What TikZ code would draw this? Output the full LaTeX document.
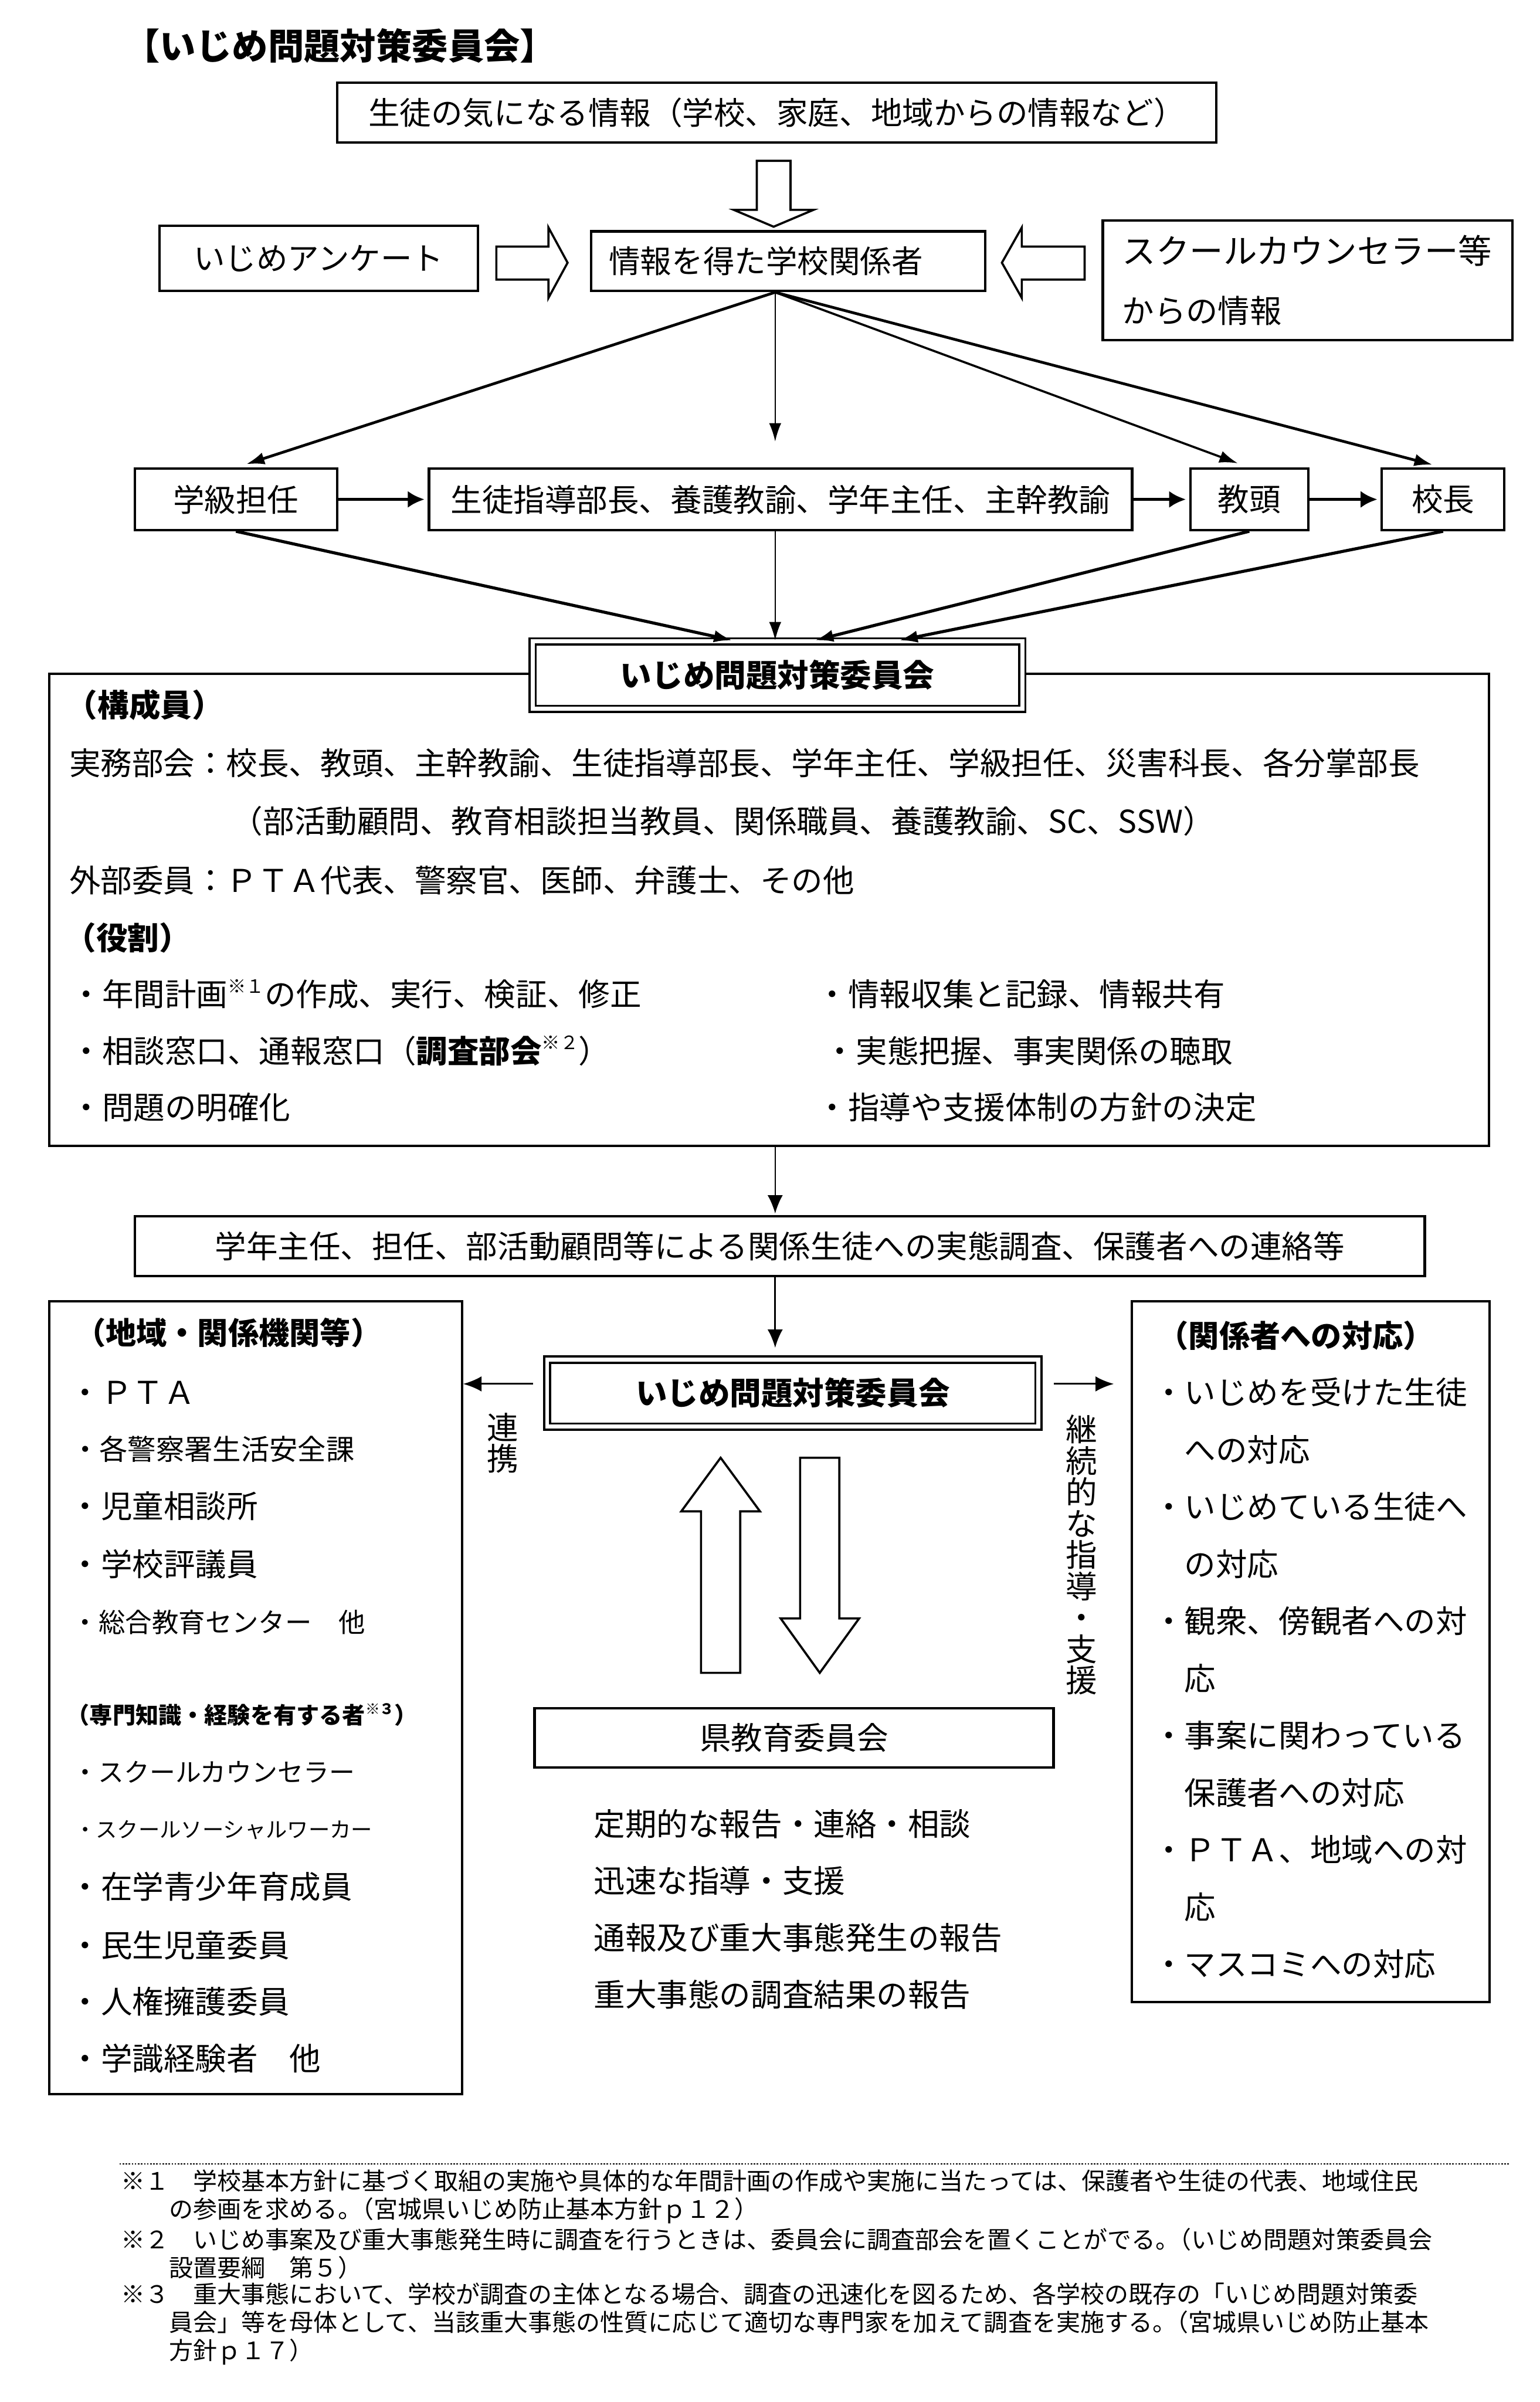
\documentclass[tikz,border=0pt]{standalone}
\usepackage{fontspec}
\setmainfont{Noto Sans CJK JP}
\usetikzlibrary{arrows.meta,positioning,calc}
\newcommand\fsz[1]{\fontsize{#1}{#1}\selectfont}
\newcommand\fnmark[2][12]{\smash{\raisebox{0.42em}{\fsz{#1}#2}}}
\newcommand\tightpar{\hspace{-0.5em}}
\tikzset{
  box/.style={draw,line width=1.6pt,inner sep=0pt,font=\fsz{20.5}},
  dbox/.style={draw,line width=1.4pt,double,double distance=2.6pt,fill=white,inner sep=0pt,font=\bfseries\fsz{20.5}},
  txt/.style={inner sep=0pt,anchor=west,font=\fsz{20.5}},
  hdtxt/.style={inner sep=0pt,font=\bfseries\fsz{20}},
  vtxt/.style={inner sep=0pt,align=center,font=\fsz{20.5}},
  fanarr/.style={-{Latex[length=12pt,width=8pt]},line width=1.8pt},
  rowarr/.style={-{Latex[length=11pt,width=11pt]},line width=2.2pt},
  linkarr/.style={-{Latex[length=12pt,width=10pt]},line width=1.2pt},
  fatarr/.style={draw,line width=1.4pt,fill=white,line join=miter},
}
\begin{document}
\begin{tikzpicture}[x=1pt,y=-1pt]
\useasboundingbox (0,0) rectangle (1005,1568);

% --- how information comes in
\node[font=\bfseries\fsz{23.5},inner sep=0pt] (title) at (222,30) {【いじめ問題対策委員会】};
\node[box,minimum width=574pt,minimum height=39pt] (info) at (507,73.5) {生徒の気になる情報（学校、家庭、地域からの情報など）};
\node[box,minimum width=208pt,minimum height=42.5pt] (survey) at (208,168.7) {いじめアンケート};
\node[box,text width=234pt,align=left,inner xsep=11.5pt,minimum height=39pt] (staff) at (514.5,170.5) {情報を得た学校関係者};
\node[box,text width=241.7pt,align=left,inner xsep=12.8pt,minimum height=78pt,font=\fontsize{20.8}{38.5}\selectfont] (sc) at (853.5,183) {{\fontsize{22}{38.5}\selectfont スクールカウンセラー等}\\からの情報};

\draw[fatarr] (494,105) -- (516,105) -- (516,137) -- (531,137) -- (505,148) -- (479,137) -- (494,137) -- cycle;
\draw[fatarr] (324,161) -- (358,161) -- (358,148.5) -- (370.5,171.5) -- (358,194.5) -- (358,182.5) -- (324,182.5) -- cycle;
\draw[fatarr] (708,161) -- (667,161) -- (667,148.5) -- (654,171.5) -- (667,194.5) -- (667,182.5) -- (708,182.5) -- cycle;

% --- who passes it on
\node[box,minimum width=132pt,minimum height=40pt] (homeroom) at (154,326) {学級担任};
\node[box,minimum width=459pt,minimum height=40pt] (leaders) at (509.5,326) {生徒指導部長、養護教諭、学年主任、主幹教諭};
\node[box,minimum width=77pt,minimum height=40pt] (vice) at (815.5,326) {教頭};
\node[box,minimum width=80pt,minimum height=40pt] (head) at (942,326) {校長};

\coordinate (fan) at ([xshift=-8.5pt]staff.south);
\draw[fanarr,shorten >=7pt] (fan) -- (homeroom.north);
\draw[fanarr,line width=0.9pt,shorten >=17pt] (fan) -- (fan |- leaders.north);
\draw[fanarr,line width=1.4pt,shorten >=8pt] (fan) -- (vice.north);
\draw[fanarr,shorten >=7pt] (fan) -- (head.north);
\draw[rowarr,shorten >=2pt] (homeroom) -- (leaders);
\draw[rowarr,shorten >=2pt] (leaders) -- (vice);
\draw[rowarr,shorten >=2pt] (vice) -- (head);

% --- committee and its members
\node[draw,line width=1.6pt,minimum width=940pt,minimum height=308pt,inner sep=0pt] (members) at (502,594) {};
\node[dbox,minimum width=319.6pt,minimum height=44pt] (com1) at (507.5,440.7) {いじめ問題対策委員会};
\draw[fanarr,line width=2pt] (homeroom.south) -- ([xshift=-29.5pt]com1.north);
\draw[fanarr,line width=0.9pt] (fan |- leaders.south) -- (fan |- com1.north);
\draw[fanarr,line width=2pt] (vice.south) -- ([xshift=24.5pt]com1.north);
\draw[fanarr,line width=2pt] (head.south) -- ([xshift=79.5pt]com1.north);

\node[hdtxt,font=\bfseries\fsz{20.5}] (memhd) at (94.5,460) {（構成員）};
\node[txt] (jimu) at (45,498) {実務部会：校長、教頭、主幹教諭、生徒指導部長、学年主任、学級担任、災害科長、各分掌部長};
\node[txt] (jimu2) at (151,536) {（部活動顧問、教育相談担当教員、関係職員、養護教諭、SC、SSW）};
\node[txt] (gaibu) at (45,574.7) {外部委員：ＰＴＡ代表、警察官、医師、弁護士、その他};
\node[hdtxt,font=\bfseries\fsz{20.5}] (rolehd) at (83.4,612) {（役割）};
\node[txt] (role1) at (46,649) {・年間計画\fnmark{※１}の作成、実行、検証、修正};
\node[txt] (role2) at (46,686) {・相談窓口、通報窓口（{\bfseries 調査部会}\fnmark{※２}）};
\node[txt] (role3) at (46,723) {・問題の明確化};
\node[txt] (role4) at (533,649) {・情報収集と記録、情報共有};
\node[txt] (role5) at (538,686) {・実態把握、事実関係の聴取};
\node[txt] (role6) at (533,723) {・指導や支援体制の方針の決定};

% --- follow-up
\node[box,minimum width=842pt,minimum height=39pt] (action) at (509,813.5) {学年主任、担任、部活動顧問等による関係生徒への実態調査、保護者への連絡等};
\draw[linkarr,line width=1pt,shorten >=1pt] (fan |- members.south) -- (fan |- action.north);

\node[dbox,minimum width=320.7pt,minimum height=43.7pt] (com2) at (517.5,909.4) {いじめ問題対策委員会};
\draw[linkarr,shorten >=7pt] (fan |- action.south) -- (fan |- com2.north);

\node[box,minimum width=269.5pt,minimum height=517.5pt] (region) at (166.75,1108.25) {};
\node[box,minimum width=233.4pt,minimum height=457.5pt] (response) at (855.6,1078.25) {};

\coordinate (linkL) at ([xshift=-8.6pt,yshift=6pt]com2.west);
\coordinate (linkR) at ([xshift=9.2pt,yshift=6pt]com2.east);
\draw[linkarr] (linkL) -- (linkL -| region.east);
\draw[linkarr,shorten >=11pt] (linkR) -- (linkR -| response.west);
\node[vtxt] (renkei) at (328,942) {連\\携};
\node[vtxt] (keizoku) at (706,1015) {継\\続\\的\\な\\指\\導\\・\\支\\援};

% --- prefecture board
\draw[fatarr] (457.6,1092) -- (457.6,986.6) -- (444.7,986.6) -- (470.4,951.6) -- (496.1,986.6) -- (483.2,986.6) -- (483.2,1092) -- cycle;
\draw[fatarr] (522.3,951.6) -- (547.9,951.6) -- (547.9,1056.5) -- (560.8,1056.5) -- (535.1,1092) -- (509.6,1056.5) -- (522.3,1056.5) -- cycle;
\node[box,minimum width=338.8pt,minimum height=38.8pt] (pref) at (518.3,1134.4) {県教育委員会};
\foreach \t [count=\i] in {定期的な報告・連絡・相談,迅速な指導・支援,通報及び重大事態発生の報告,重大事態の調査結果の報告}
  \node[txt] (report\i) at (387.5,{1190.7+(\i-1)*37.13}) {\t};

% --- left box
\node[hdtxt] (reghd) at (149,870) {（地域・関係機関等）};
\foreach \y/\s/\t [count=\i] in {909/20.5/・ＰＴＡ,946/18.5/・各警察署生活安全課,983/20.5/・児童相談所,1021/20.5/・学校評議員,1059/17.4/・総合教育センター　他}
  \node[txt,font=\fsz{\s}] (org\i) at ({55.5-\s/2},\y) {\t};
\node[hdtxt,font=\bfseries\fsz{15}] (exphd) at (158,1119.6) {（専門知識・経験を有する者\fnmark[9.5]{※３}）};
\foreach \y/\s/\t [count=\i] in {1156.7/16.8/・スクールカウンセラー,1194.5/13.9/・スクールソーシャルワーカー,1231.5/20.5/・在学青少年育成員,1269.7/20.5/・民生児童委員,1306.7/20.5/・人権擁護委員,1343.8/20.5/・学識経験者　他}
  \node[txt,font=\fsz{\s}] (exp\i) at ({55.5-\s/2},\y) {\t};

% --- right box
\node[hdtxt] (resphd) at (845.9,872) {（関係者への対応）};
\foreach \t [count=\i] in {・いじめを受けた生徒,　への対応,・いじめている生徒へ,　の対応,・観衆、傍観者への対,　応,・事案に関わっている,　保護者への対応,・ＰＴＡ、地域への対,　応,・マスコミへの対応}
  \node[txt] (resp\i) at (752.5,{908.9+(\i-1)*37.33}) {\t};

% --- notes
\draw[line width=1pt,dash pattern=on 1pt off 1pt] (78,1412.5) -- (985,1412.5);
\node[txt,align=left,font=\fontsize{15.7}{18.3}\selectfont] (fn1) at (79,1434) {※１　学校基本方針に基づく取組の実施や具体的な年間計画の作成や実施に当たっては、保護者や生徒の代表、地域住民\\　　の参画を求める。\tightpar（宮城県いじめ防止基本方針ｐ１２）};
\node[txt,align=left,font=\fontsize{15.7}{18.3}\selectfont] (fn2) at (79,1471) {※２　いじめ事案及び重大事態発生時に調査を行うときは、委員会に調査部会を置くことがでる。\tightpar（いじめ問題対策委員会\\　　設置要綱　第５）};
\node[txt,align=left,font=\fontsize{15.7}{18.3}\selectfont] (fn3) at (79,1517) {※３　重大事態において、学校が調査の主体となる場合、調査の迅速化を図るため、各学校の既存の「いじめ問題対策委\\　　員会」等を母体として、当該重大事態の性質に応じて適切な専門家を加えて調査を実施する。\tightpar（宮城県いじめ防止基本\\　　方針ｐ１７）};
\end{tikzpicture}
\end{document}
